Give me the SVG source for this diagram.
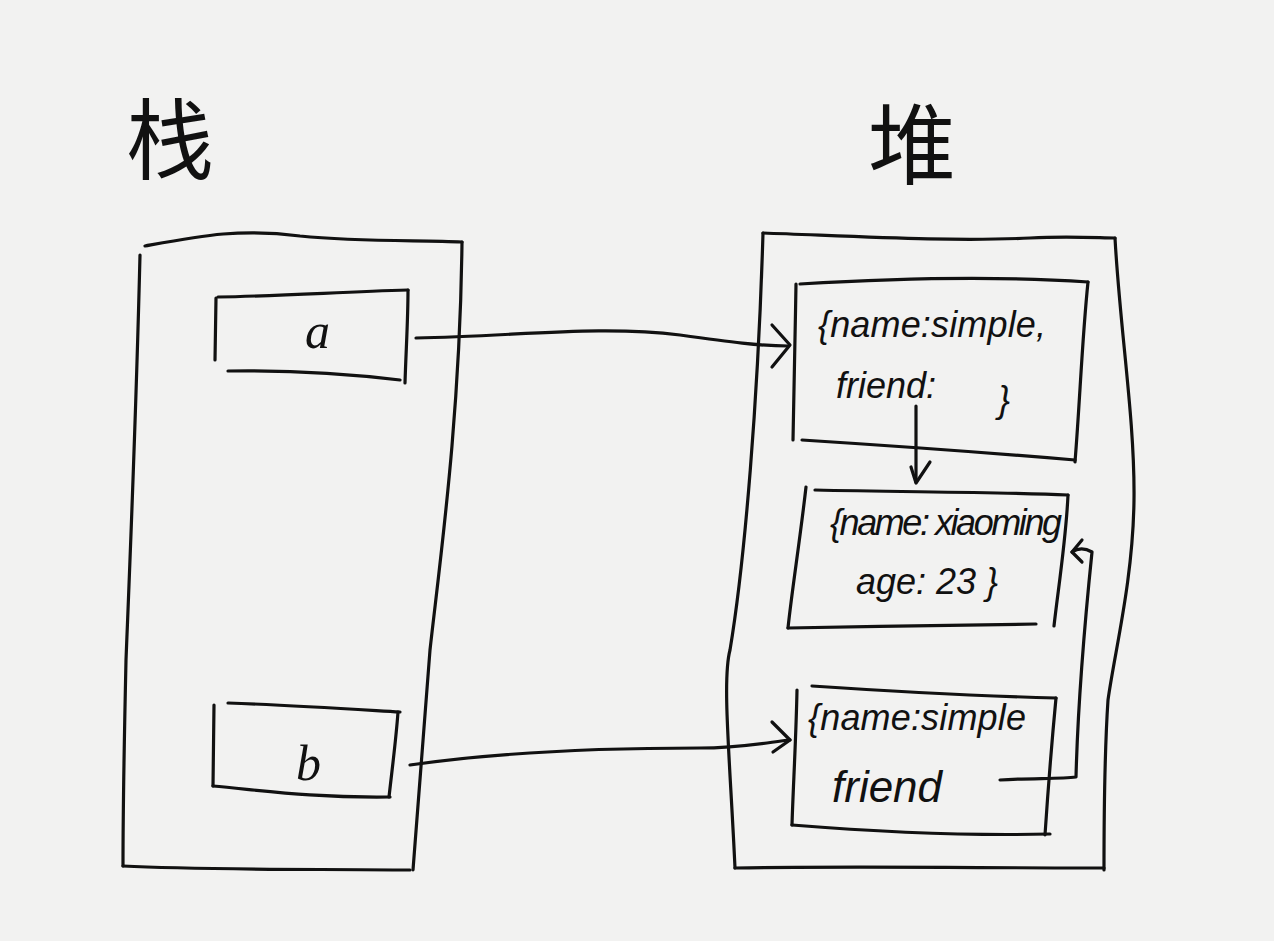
<svg xmlns="http://www.w3.org/2000/svg" width="1274" height="941" viewBox="0 0 1274 941">
<style>
.s{fill:none;stroke:#111;stroke-width:3.2;stroke-linecap:round;stroke-linejoin:round}
.t{font-family:"Liberation Sans",sans-serif;font-size:36px;fill:#111;font-style:italic}
.v{font-family:"Liberation Serif",serif;font-size:50px;fill:#111;font-style:italic}
.h{font-family:"Noto Sans CJK SC",sans-serif;font-size:88px;fill:#111}
</style>
<rect width="1274" height="941" fill="#f2f2f1"/>
<g id="title-stack"><text class="h" x="126" y="172">栈</text></g>
<g id="title-heap"><text class="h" x="868" y="177">堆</text></g>
<g id="stack">
<path class="s" d="M145,246 C200,236 240,228 300,236 C360,242 420,240 462,242"/>
<path class="s" d="M462,242 C460,420 440,560 430,650 C425,720 418,800 413,870"/>
<path class="s" d="M140,255 C136,420 130,560 126,660 C124,750 123,820 123,866"/>
<path class="s" d="M123,866 C200,870 300,869 410,870"/>
</g>
<g id="box-a">
<path class="s" d="M216,298 L215,360"/>
<path class="s" d="M218,297 C280,296 340,292 408,290"/>
<path class="s" d="M408,290 C408,320 406,350 405,383"/>
<path class="s" d="M228,371 C290,370 350,374 400,380"/>
<text class="v" x="305" y="348">a</text>
</g>
<g id="box-b">
<path class="s" d="M214,705 L213,786"/>
<path class="s" d="M228,703 C290,705 350,709 400,712"/>
<path class="s" d="M398,712 C396,740 392,770 389,797"/>
<path class="s" d="M213,786 C260,790 310,798 390,797"/>
<text class="v" x="296" y="780">b</text>
</g>
<g id="heap">
<path class="s" d="M763,233 C850,236 950,242 1030,238 C1070,236 1100,238 1115,238"/>
<path class="s" d="M763,233 C758,400 745,560 730,650 C722,680 730,760 735,868"/>
<path class="s" d="M1115,238 C1120,330 1135,420 1134,500 C1133,580 1115,650 1108,700 C1104,760 1104,820 1104,870"/>
<path class="s" d="M735,868 C850,866 980,868 1104,868"/>
</g>
<g id="obj1">
<path class="s" d="M796,284 C795,340 794,400 793,440"/>
<path class="s" d="M800,284 C900,278 1000,276 1088,282"/>
<path class="s" d="M1088,282 C1082,340 1080,400 1075,462"/>
<path class="s" d="M802,440 C880,445 980,452 1075,460"/>
<text class="t" x="818" y="337" textLength="228">{name:simple,</text>
<text class="t" x="836" y="398">friend:</text>
<text class="t" x="998" y="412">}</text>
</g>
<g id="obj2">
<path class="s" d="M806,487 C800,540 792,590 788,628"/>
<path class="s" d="M815,490 C900,492 1000,492 1068,495"/>
<path class="s" d="M1068,495 C1066,540 1058,590 1054,626"/>
<path class="s" d="M788,628 C870,626 960,626 1036,624"/>
<text class="t" x="830" y="535" textLength="232">{name: xiaoming</text>
<text class="t" x="856" y="594">age: 23 }</text>
</g>
<g id="obj3">
<path class="s" d="M797,690 C796,740 793,790 792,825"/>
<path class="s" d="M812,686 C900,692 980,696 1056,698"/>
<path class="s" d="M1056,698 C1052,740 1048,790 1045,835"/>
<path class="s" d="M792,825 C880,832 970,836 1050,834"/>
<text class="t" x="808" y="730" textLength="218">{name:simple</text>
<text class="t" x="832" y="802" style="font-size:44px">friend</text>
</g>
<g id="connectors">
<path class="s" d="M416,338 C520,336 600,325 680,335 C730,342 760,346 788,346"/>
<path class="s" d="M772,325 L790,345 L772,367"/>
<path class="s" d="M410,765 C500,752 600,748 700,748 C740,748 770,742 790,740"/>
<path class="s" d="M772,722 L790,740 L773,752"/>
<path class="s" d="M916,406 L916,482"/>
<path class="s" d="M911,467 L916,483 L930,462"/>
<path class="s" d="M1000,780 C1030,778 1060,779 1076,777 C1078,700 1085,620 1092,552 C1085,548 1078,548 1072,552"/>
<path class="s" d="M1082,540 L1072,552 L1082,562"/>
</g>
</svg>
